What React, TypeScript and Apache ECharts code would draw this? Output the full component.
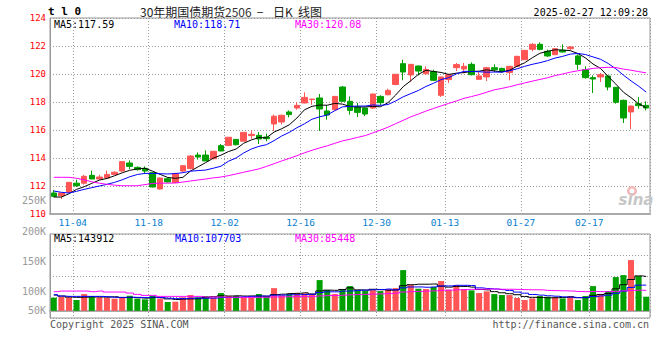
import React, { useEffect, useRef } from 'react';
import * as echarts from 'echarts';

const dates = [
  '10-30', '10-31', '11-01',
  '11-04', '11-05', '11-06', '11-07', '11-08',
  '11-11', '11-12', '11-13', '11-14', '11-15',
  '11-18', '11-19', '11-20', '11-21', '11-22',
  '11-25', '11-26', '11-27', '11-28', '11-29',
  '12-02', '12-03', '12-04', '12-05', '12-06',
  '12-09', '12-10', '12-11', '12-12', '12-13',
  '12-16', '12-17', '12-18', '12-19', '12-20',
  '12-23', '12-24', '12-25', '12-26', '12-27',
  '12-30', '12-31', '01-02', '01-03',
  '01-06', '01-07', '01-08', '01-09', '01-10',
  '01-13', '01-14', '01-15', '01-16', '01-17',
  '01-20', '01-21', '01-22', '01-23', '01-24',
  '01-27', '02-05', '02-06', '02-07',
  '02-10', '02-11', '02-12', '02-13', '02-14',
  '02-17', '02-18', '02-19', '02-20', '02-21',
  '02-24', '02-25', '02-26',
];

const labelDates = ['11-04', '11-18', '12-02', '12-16', '12-30', '01-13', '01-27', '02-17'];

const opens = [
  111.5, 111.31, 111.57, 112.2, 112.2, 112.76, 112.5, 112.57, 112.83, 113.07,
  113.64, 113.33, 113.26, 112.95, 111.79, 112.52, 112.24, 113.07, 113.24, 114.21,
  114.21, 113.95, 114.88, 114.9, 115.33, 115.2, 115.6, 115.62, 115.5, 116.43,
  116.57, 117.29, 117.57, 117.93, 118.17, 118.29, 117.36, 117.45, 119.07, 118.05,
  117.64, 117.57, 117.57, 118.4, 118.52, 119.25, 120.74, 119.93, 120.57, 120.02,
  120.16, 118.48, 119.6, 120.45, 120.36, 120.69, 119.62, 119.79, 120.45, 120.4,
  120.1, 120.55, 121.02, 121.76, 122.12, 121.62, 121.38, 121.69, 121.81, 121.29,
  120.31, 119.74, 119.79, 119.86, 119.05, 118.12, 117.29, 117.88, 117.76,
];
const closes = [
  111.26, 111.5, 112.26, 112.02, 112.69, 112.5, 112.64, 112.83, 112.98, 113.74,
  113.4, 113.17, 113.07, 111.93, 112.57, 112.29, 112.88, 113.45, 114.14, 114.07,
  113.79, 114.48, 114.5, 115.48, 114.95, 115.83, 115.69, 115.36, 115.38, 116.98,
  117.05, 117.1, 117.76, 118.33, 118.21, 117.5, 117.07, 118.4, 118.05, 117.4,
  117.26, 117.14, 118.57, 117.95, 118.83, 119.98, 120.14, 120.69, 120.21, 120.33,
  119.55, 119.79, 119.95, 120.67, 120.55, 119.95, 119.86, 120.45, 120.31, 120.19,
  120.55, 121.26, 121.69, 122.12, 121.76, 121.29, 121.81, 121.57, 121.93, 120.69,
  119.74, 119.64, 119.95, 119.07, 117.98, 116.86, 117.71, 117.74, 117.57,
];
const lows = [
  111.2, 111.07, 111.5, 111.93, 112.1, 112.5, 112.45, 112.55, 112.8, 113.0,
  113.2, 113.1, 112.9, 111.9, 111.75, 112.25, 112.2, 113.0, 113.2, 113.88,
  113.79, 113.9, 114.5, 114.85, 114.9, 115.2, 115.38, 115.0, 115.2, 115.93,
  116.4, 116.9, 117.45, 117.9, 117.8, 115.93, 116.74, 117.4, 118.0, 117.1,
  116.93, 117.0, 117.5, 117.76, 118.48, 119.2, 119.55, 119.43, 119.9, 119.93,
  119.5, 118.36, 119.36, 120.21, 120.05, 119.9, 119.6, 119.5, 120.14, 120.1,
  119.55, 120.5, 121.0, 121.62, 121.69, 121.21, 121.35, 121.55, 121.69, 120.31,
  119.67, 118.64, 119.43, 118.83, 117.88, 116.5, 116.05, 117.52, 117.4,
];
const highs = [
  111.7, 111.5, 112.26, 112.45, 112.79, 113.1, 112.8, 113.1, 113.05, 113.76,
  113.83, 113.4, 113.4, 113.0, 112.6, 112.6, 112.95, 113.5, 114.2, 114.4,
  114.55, 114.5, 115.0, 115.5, 115.35, 115.83, 115.98, 115.86, 115.74, 117.1,
  117.1, 117.4, 117.98, 118.69, 118.2, 118.57, 117.76, 118.4, 119.14, 118.4,
  117.93, 117.6, 118.6, 118.48, 118.95, 120.0, 121.02, 120.7, 120.6, 120.55,
  120.3, 119.8, 120.02, 120.79, 120.79, 120.83, 120.14, 120.5, 120.69, 120.45,
  120.55, 121.3, 121.7, 122.21, 122.26, 121.74, 121.85, 122.12, 121.98, 121.4,
  120.55, 119.9, 120.07, 119.9, 119.07, 118.17, 117.76, 118.36, 118.05,
];

const ma5 = [
  111.21, 111.21, 111.45, 111.76, 111.95, 112.19, 112.42, 112.54, 112.73, 112.94,
  113.12, 113.22, 113.27, 113.06, 112.83, 112.61, 112.55, 112.62, 113.07, 113.37,
  113.67, 113.99, 114.2, 114.46, 114.64, 115.05, 115.29, 115.46, 115.44, 115.85,
  116.09, 116.37, 116.85, 117.44, 117.69, 117.78, 117.77, 117.9, 117.85, 117.68,
  117.64, 117.65, 117.68, 117.66, 117.95, 118.49, 119.09, 119.52, 119.97, 120.27,
  120.18, 120.11, 119.97, 120.06, 120.1, 120.18, 120.2, 120.3, 120.22, 120.15,
  120.27, 120.55, 120.8, 121.16, 121.48, 121.62, 121.73, 121.71, 121.67, 121.46,
  121.15, 120.71, 120.39, 119.82, 119.28, 118.7, 118.31, 117.87, 117.59,
];
const ma10 = [
  111.64, 111.55, 111.5, 111.62, 111.76, 111.88, 112.0, 112.12, 112.26, 112.44,
  112.66, 112.82, 112.9, 112.9, 112.88, 112.86, 112.89, 112.95, 113.06, 113.1,
  113.14, 113.27, 113.41, 113.77, 114.0, 114.36, 114.64, 114.83, 114.95, 115.24,
  115.57, 115.83, 116.16, 116.44, 116.77, 116.94, 117.07, 117.38, 117.65, 117.69,
  117.71, 117.71, 117.79, 117.76, 117.82, 118.07, 118.37, 118.6, 118.82, 119.11,
  119.34, 119.6, 119.74, 120.01, 120.19, 120.18, 120.16, 120.13, 120.14, 120.13,
  120.23, 120.37, 120.55, 120.69, 120.81, 120.95, 121.14, 121.26, 121.42, 121.47,
  121.39, 121.22, 121.05, 120.75, 120.37, 119.92, 119.51, 119.13, 118.71,
];
const ma30 = [
  112.62, 112.62, 112.62, 112.55, 112.44, 112.3, 112.2, 112.12, 112.06, 112.02,
  112.02, 112.02, 112.1, 112.18, 112.2, 112.2, 112.22, 112.28, 112.36, 112.43,
  112.5, 112.58, 112.64, 112.74, 112.86, 112.98, 113.1, 113.22, 113.4, 113.59,
  113.79, 113.97, 114.16, 114.37, 114.55, 114.72, 114.87, 115.05, 115.22, 115.34,
  115.47, 115.6, 115.79, 115.99, 116.2, 116.45, 116.69, 116.94, 117.14, 117.35,
  117.54, 117.72, 117.9, 118.07, 118.26, 118.39, 118.53, 118.7, 118.87, 118.97,
  119.09, 119.23, 119.36, 119.49, 119.61, 119.73, 119.89, 120.0, 120.13, 120.23,
  120.32, 120.4, 120.45, 120.48, 120.46, 120.35, 120.27, 120.17, 120.08,
];

const volumes = [
  55100, 59200, 56500, 45300, 70300, 62000, 56500, 55100, 50800, 53700,
  63400, 50800, 48100, 63400, 50800, 37000, 38300, 56500, 66200, 56500,
  62000, 55100, 74500, 62000, 62000, 56500, 56500, 70300, 62000, 95200,
  64800, 70300, 74500, 73200, 70300, 128900, 87100, 70300, 91300, 103700,
  87100, 82900, 87100, 82900, 91300, 95200, 170700, 108000, 92700, 91300,
  99700, 124800, 88500, 108000, 89900, 85700, 74500, 81600, 70300, 66200,
  66200, 53700, 45300, 52200, 62000, 59200, 56500, 52200, 62000, 45300,
  62000, 103700, 70300, 82900, 141500, 149800, 212600, 145700, 59200,
];
const volMa5 = [
  66200, 62000, 57900, 56500, 57300, 58700, 58100, 57800, 58900, 55600,
  55900, 54800, 53400, 55900, 55300, 50000, 47500, 49200, 49800, 50900,
  55900, 59300, 62900, 62000, 63100, 62000, 62300, 61500, 61500, 68100,
  69800, 72500, 73400, 75600, 70600, 83400, 86800, 86000, 89600, 96300,
  87900, 87100, 90400, 88700, 86300, 87900, 105400, 109600, 111600, 111600,
  112500, 103300, 99400, 102500, 102200, 99400, 89300, 87900, 80400, 75700,
  71800, 67600, 60300, 56700, 55900, 54500, 55000, 56400, 58400, 55000,
  55600, 65000, 68700, 72800, 92100, 109600, 131400, 146500, 143912,
];
const volMa10 = [
  67600, 62000, 60600, 60600, 60600, 60600, 60600, 59200, 56500, 56500,
  57300, 56400, 55600, 57400, 55500, 53000, 51100, 51300, 52800, 53100,
  53000, 53400, 56000, 55900, 57000, 59000, 60800, 62200, 61700, 65600,
  65900, 67400, 67400, 68500, 69400, 76600, 79700, 79700, 82600, 83400,
  85700, 86900, 88200, 89200, 91300, 87900, 96300, 100000, 100200, 98900,
  100200, 104400, 104500, 107000, 106900, 105900, 96300, 93700, 91400, 88900,
  85600, 78500, 74100, 68600, 65800, 63100, 61300, 58400, 57600, 55500,
  55000, 60000, 62500, 65600, 73600, 82600, 98200, 107600, 107703,
];
const volMa30 = [
  80200, 82900, 82900, 82900, 82900, 80200, 82900, 78800, 78800, 78800,
  74600, 69000, 64800, 64800, 60600, 60600, 60600, 60600, 60600, 60600,
  57900, 57900, 57900, 56500, 56500, 56500, 56500, 56500, 57000, 58400,
  58700, 59100, 59700, 60600, 60600, 62800, 63900, 64400, 65700, 67400,
  68200, 69200, 70500, 71200, 72500, 74500, 78900, 80600, 81500, 82700,
  83900, 86200, 86700, 88200, 89200, 90100, 90700, 91100, 91400, 90400,
  90500, 89900, 88900, 88200, 88000, 85600, 84600, 84000, 83000, 81100,
  80300, 81000, 80400, 80400, 82100, 83900, 85300, 86500, 85448,
];

const titleCode = 't l 0';
const titleParts = ['30年期国债期货', '2506', '−', '日K', '线图'];
const timeText = '2025-02-27 12:09:28';
const mainLegend = ['MA5:117.59', 'MA10:118.71', 'MA30:120.08'];
const volLegend = ['MA5:143912', 'MA10:107703', 'MA30:85448'];
const volTickLabels = ['200K', '150K', '100K', '50K'];
const strayLabel = '250K';
const footerLeft = 'Copyright 2025 SINA.COM';
const footerRight = 'http://finance.sina.com.cn';

const RED = '#ff5555';
const GREEN = '#00a000';
const MONO = '"DejaVu Sans Mono", "Liberation Mono", monospace';
const CJK = '"Noto Sans CJK SC", sans-serif';
const lineColors = ['#000000', '#0000ff', '#ff00ff'];

function txt(text: string, x: number, y: number, fill: string, font: string, align = 'left') {
  return {
    type: 'text',
    x,
    y,
    silent: true,
    z: 100,
    style: {
      text,
      fill,
      font,
      align,
      textAlign: align,
      verticalAlign: 'middle',
      textVerticalAlign: 'middle',
    },
  };
}

export default function App() {
  const ref = useRef<HTMLDivElement>(null);

  useEffect(() => {
    if (!ref.current) return;
    const chart = echarts.init(ref.current, null, { renderer: 'svg' });
    const isLabel = (i: number) => labelDates.indexOf(dates[i]) >= 0;
    const candleData = dates.map((_, i) => [opens[i], closes[i], lows[i], highs[i]]);
    const volData = volumes.map((v, i) => ({
      value: v,
      itemStyle: { color: closes[i] >= opens[i] ? RED : GREEN },
    }));
    const dotted = { color: '#9a9a9a', width: 1, type: [1, 2] as any };

    const graphics: any[] = [
      txt(titleCode, 48, 11.5, '#000', `bold 11px ${MONO}`),
      txt(titleParts[0], 140, 11, '#222', `12px ${CJK}`),
      txt(titleParts[1], 225, 11, '#333', `12px ${CJK}`),
      txt(titleParts[2], 260, 11, '#222', `12px ${CJK}`, 'center'),
      txt(titleParts[3], 273, 11, '#222', `12px ${CJK}`),
      txt(titleParts[4], 298, 11, '#222', `12px ${CJK}`),
      txt(timeText, 648, 12, '#000', `10px ${MONO}`, 'right'),
      txt(mainLegend[0], 54, 24, lineColors[0], `10px ${MONO}`),
      txt(mainLegend[1], 174, 24, lineColors[1], `10px ${MONO}`),
      txt(mainLegend[2], 295, 24, lineColors[2], `10px ${MONO}`),
      txt(volLegend[0], 54, 238, lineColors[0], `10px ${MONO}`),
      txt(volLegend[1], 175, 238, lineColors[1], `10px ${MONO}`),
      txt(volLegend[2], 295, 238, lineColors[2], `10px ${MONO}`),
      txt(strayLabel, 46, 200, '#999', `10px ${MONO}`, 'right'),
      txt(volTickLabels[0], 46, 231, '#999', `10px ${MONO}`, 'right'),
      txt(volTickLabels[1], 46, 261, '#999', `10px ${MONO}`, 'right'),
      txt(volTickLabels[2], 46, 291, '#999', `10px ${MONO}`, 'right'),
      txt(volTickLabels[3], 46, 310, '#999', `10px ${MONO}`, 'right'),
      txt(footerLeft, 50, 324, '#555', `10px ${MONO}`),
      txt(footerRight, 649, 324, '#555', `10px ${MONO}`, 'right'),
      {
        type: 'ring',
        shape: { cx: 632, cy: 191, r: 5, r0: 2.5 },
        style: { fill: '#f2b8b8' },
        silent: true,
        z: 90,
      },
      txt('sina', 636, 200, '#c6c6c6', 'italic bold 15px "DejaVu Sans", sans-serif', 'center'),
    ];

    const option: any = {
      animation: false,
      backgroundColor: '#ffffff',
      grid: [
        { left: 50, top: 18, width: 600, height: 196, show: true, borderColor: '#999', borderWidth: 1 },
        { left: 50, top: 234, width: 600, height: 84, show: true, borderColor: '#999', borderWidth: 1 },
      ],
      xAxis: [
        {
          type: 'category',
          gridIndex: 0,
          data: dates,
          boundaryGap: true,
          axisLine: { show: true, lineStyle: { color: '#aaa', width: 2 } },
          axisTick: { show: false },
          axisLabel: {
            interval: (i: number) => isLabel(i),
            color: '#0a7fd0',
            fontFamily: MONO,
            fontSize: 9.5,
            margin: 3,
            padding: [0, 7.6, 0, 0],
          },
          splitLine: { show: true, interval: (i: number) => isLabel(i), lineStyle: dotted },
        },
        {
          type: 'category',
          gridIndex: 1,
          data: dates,
          boundaryGap: true,
          axisLine: { show: true, lineStyle: { color: '#aaa', width: 2 } },
          axisTick: { show: false },
          axisLabel: { show: false },
          splitLine: { show: true, interval: (i: number) => isLabel(i), lineStyle: dotted },
        },
      ],
      yAxis: [
        {
          type: 'value',
          gridIndex: 0,
          min: 110,
          max: 124,
          interval: 2,
          axisLine: { show: true, lineStyle: { color: '#999', width: 1 } },
          axisTick: { show: false },
          axisLabel: { color: '#ff0000', fontFamily: MONO, fontSize: 9, margin: 4 },
          splitLine: { show: true, lineStyle: dotted },
        },
        {
          type: 'value',
          gridIndex: 1,
          min: -30000,
          max: 322000,
          axisLine: { show: true, lineStyle: { color: '#999', width: 1 } },
          axisTick: { show: false },
          axisLabel: { show: false },
          splitLine: { show: false },
        },
        {
          type: 'value',
          gridIndex: 1,
          min: 0,
          max: 4,
          interval: 1,
          axisLine: { show: false },
          axisTick: { show: false },
          axisLabel: { show: false },
          splitLine: { show: true, lineStyle: dotted },
        },
      ],
      series: [
        {
          type: 'candlestick',
          xAxisIndex: 0,
          yAxisIndex: 0,
          data: candleData,
          barWidth: 6,
          itemStyle: { color: RED, color0: GREEN, borderColor: RED, borderColor0: GREEN, borderWidth: 1 },
          z: 3,
        },
        ...[ma5, ma10, ma30].map((d, k) => ({
          type: 'line',
          xAxisIndex: 0,
          yAxisIndex: 0,
          data: d,
          symbol: 'none',
          lineStyle: { color: lineColors[k], width: 1 },
          z: 4,
        })),
        {
          type: 'bar',
          xAxisIndex: 1,
          yAxisIndex: 1,
          data: volData,
          barWidth: 6,
          z: 3,
        },
        ...[volMa5, volMa10, volMa30].map((d, k) => ({
          type: 'line',
          xAxisIndex: 1,
          yAxisIndex: 1,
          data: d,
          step: 'middle',
          symbol: 'none',
          lineStyle: { color: lineColors[k], width: 1 },
          z: 4,
        })),
      ],
      graphic: graphics,
    };

    chart.setOption(option);
    return () => chart.dispose();
  }, []);

  return (
    <div
      ref={ref}
      style={{ position: 'fixed', left: 0, top: 0, width: 660, height: 360, background: '#fff' }}
    />
  );
}
